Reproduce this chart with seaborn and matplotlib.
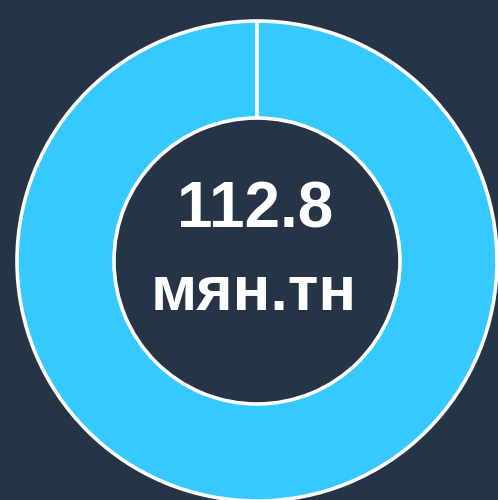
import matplotlib
matplotlib.use("Agg")
import numpy as np
import matplotlib.pyplot as plt
import seaborn as sns

# data
labels = ["мян.тн"]
values = [112.8]
center_label = "112.8"
unit_label = "мян.тн"

bg_color = "#263447"
ring_color = "#35C9FF"

sns.set_theme(style="white")
plt.rcParams["font.family"] = ["Liberation Sans", "DejaVu Sans"]

fig = plt.figure(figsize=(4.98, 5.0), dpi=100)
fig.patch.set_facecolor(bg_color)
ax = fig.add_axes([0, 0, 1, 1])
ax.set_facecolor(bg_color)

# donut ring, one full slice starting from the top
wedges, _ = ax.pie(values, colors=[ring_color], startangle=90, counterclock=False,
                   radius=240, center=(257, 239),
                   wedgeprops=dict(width=97, edgecolor="white", linewidth=2.6))

# a full-circle wedge has no radial edge, so draw the slice start line
for w in wedges:
    cx, cy = w.center
    ang = np.deg2rad(w.theta2)
    r_out, r_in = w.r, w.r - w.width
    ax.plot([cx + r_in * np.cos(ang), cx + r_out * np.cos(ang)],
            [cy + r_in * np.sin(ang), cy + r_out * np.sin(ang)],
            color="white", linewidth=2.6, solid_capstyle="butt")

ax.set_xlim(0, 498)
ax.set_ylim(0, 500)
ax.set_aspect("equal")
ax.axis("off")

ax.text(255, 290, center_label, ha="center", va="center",
        fontsize=46, fontweight="bold", color="white")
ax.text(254, 207, unit_label, ha="center", va="center",
        fontsize=45, fontweight="bold", color="white")

fig.savefig("out.png", dpi=100, facecolor=bg_color)
